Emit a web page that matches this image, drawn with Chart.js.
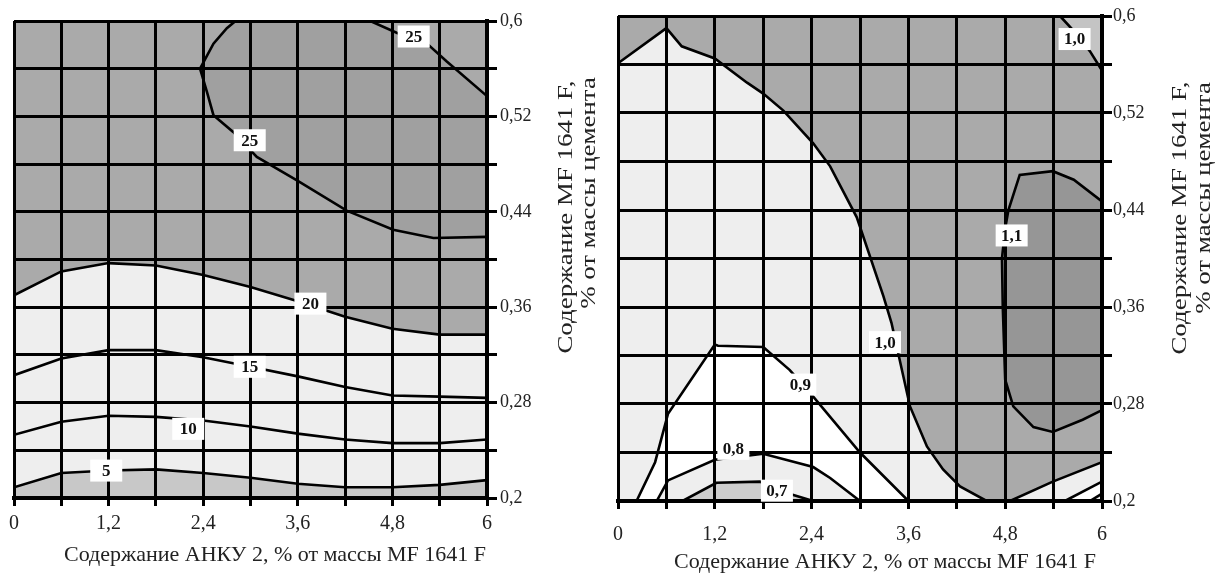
<!DOCTYPE html>
<html>
<head>
<meta charset="utf-8">
<script src="https://cdn.jsdelivr.net/npm/chart.js@4.4.1/dist/chart.umd.min.js"></script>
<style>
  body { margin: 0; background: #fff; }
  .wrap { position: absolute; top: 0; width: 612px; height: 574px; }
</style>
</head>
<body>
<div class="wrap" style="left:0"><canvas id="leftChart" width="612" height="574"></canvas></div>
<div class="wrap" style="left:612px"><canvas id="rightChart" width="612" height="574"></canvas></div>
<script>
// axis ticks (shared by both plots)
const xTickValues = [0, 0.6, 1.2, 1.8, 2.4, 3.0, 3.6, 4.2, 4.8, 5.4, 6];
const xTickLabels = ['0', '', '1,2', '', '2,4', '', '3,6', '', '4,8', '', '6'];
const yTickValues = [0.2, 0.24, 0.28, 0.32, 0.36, 0.4, 0.44, 0.48, 0.52, 0.56, 0.6];
const yTickLabels = ['0,2', '', '0,28', '', '0,36', '', '0,44', '', '0,52', '', '0,6'];

// left plot: isolines 5 ... 25
const leftX = [0, 0.6, 1.2, 1.8, 2.4, 3.0, 3.6, 4.2, 4.8, 5.4, 6];
const level20Y = [0.370, 0.390, 0.397, 0.395, 0.387, 0.377, 0.365, 0.352, 0.342, 0.337, 0.337];
const level15Y = [0.303, 0.317, 0.324, 0.324, 0.318, 0.310, 0.302, 0.293, 0.286, 0.285, 0.284];
const level10Y = [0.253, 0.264, 0.269, 0.268, 0.265, 0.260, 0.254, 0.249, 0.246, 0.246, 0.249];
const level5Y  = [0.209, 0.221, 0.223, 0.224, 0.221, 0.217, 0.212, 0.209, 0.209, 0.211, 0.215];
// the 25 zone: lower edge, and upper edge (runs along the top frame between the two pieces)
const level25LowX = [2.36, 2.45, 2.53, 2.78, 3.08, 3.6, 4.22, 4.81, 5.32, 6];
const level25LowY = [0.560, 0.540, 0.521, 0.507, 0.486, 0.466, 0.441, 0.425, 0.418, 0.419];
const level25UpX = [2.36, 2.53, 2.7, 2.81, 4.52, 4.86, 5.19, 5.49, 6];
const level25UpY = [0.560, 0.581, 0.594, 0.6, 0.6, 0.590, 0.584, 0.566, 0.537];
const leftLabelText = ['25', '25', '20', '15', '10', '5'];
const leftLabelX = [5.07, 2.99, 3.76, 2.99, 2.21, 1.17];
const leftLabelY = [0.587, 0.500, 0.363, 0.310, 0.258, 0.223];

// right plot: isolines 0,7 ... 1,1
const main10X = [0, 0.6, 0.79, 1.2, 1.6, 1.8, 2.05, 2.42, 2.63, 2.96, 3.29, 3.39, 3.62, 3.83, 4.03, 4.24, 4.57, 4.86, 5.39, 6];
const main10Y = [0.561, 0.590, 0.575, 0.565, 0.545, 0.536, 0.522, 0.495, 0.476, 0.434, 0.369, 0.347, 0.278, 0.245, 0.226, 0.212, 0.2, 0.2, 0.216, 0.232];
const corner10X = [5.48, 5.7, 5.85, 6];
const corner10Y = [0.6, 0.584, 0.571, 0.555];
const level11UpX = [4.76, 4.8, 4.84, 4.98, 5.39, 5.65, 6];
const level11UpY = [0.400, 0.425, 0.440, 0.469, 0.472, 0.465, 0.447];
const level11LowX = [4.76, 4.77, 4.8, 4.9, 5.15, 5.39, 5.76, 6];
const level11LowY = [0.400, 0.360, 0.300, 0.278, 0.261, 0.257, 0.267, 0.275];
const level09X = [0.23, 0.46, 0.62, 1.2, 1.24, 1.8, 2.13, 2.42, 3.0, 3.6];
const level09Y = [0.2, 0.232, 0.272, 0.329, 0.328, 0.327, 0.308, 0.286, 0.240, 0.2];
const level08X = [0.48, 0.62, 1.2, 1.8, 2.42, 2.63, 3.0];
const level08Y = [0.2, 0.217, 0.234, 0.239, 0.228, 0.219, 0.2];
const level07X = [0.8, 1.22, 1.76, 1.97, 2.42];
const level07Y = [0.2, 0.215, 0.216, 0.209, 0.2];
const corner09X = [5.54, 6];
const corner09Y = [0.2, 0.216];
const corner08X = [5.85, 6];
const corner08Y = [0.2, 0.206];
const rightLabelText = ['1,0', '1,1', '1,0', '0,9', '0,8', '0,7'];
const rightLabelX = [5.66, 4.88, 3.31, 2.26, 1.43, 1.97];
const rightLabelY = [0.581, 0.419, 0.331, 0.296, 0.243, 0.2085];

const xTitle = 'Содержание АНКУ 2, % от массы MF 1641 F';
const yTitle = ['Содержание MF 1641 F,', '% от массы цемента'];

const LIGHT = '#eeeeee', MID = '#aaaaaa', DARK = '#a0a0a0', DARKER = '#969696', LOW = '#c8c8c8', WHITE = '#ffffff';
const SERIF = '"Liberation Serif", "Times New Roman", serif';

function pts(xs, ys) {
  return xs.map((x, i) => ({x: x, y: ys[i]}));
}

function isoline(xs, ys, fill, color) {
  return {
    data: pts(xs, ys),
    borderColor: '#000',
    borderWidth: 2.6,
    pointRadius: 0,
    tension: 0,
    fill: fill,
    backgroundColor: color || 'transparent'
  };
}

// plot background colour
const areaBg = {
  id: 'areaBg',
  beforeDraw(chart) {
    const a = chart.chartArea, ctx = chart.ctx;
    ctx.save();
    ctx.fillStyle = LIGHT;
    ctx.fillRect(a.left, a.top, a.right - a.left, a.bottom - a.top);
    ctx.restore();
  }
};

// boxed level labels on the isolines
const contourLabels = {
  id: 'contourLabels',
  afterDraw(chart, args, opts) {
    const ctx = chart.ctx, sx = chart.scales.x, sy = chart.scales.y;
    ctx.save();
    ctx.font = 'bold 17px ' + SERIF;
    ctx.textAlign = 'center';
    ctx.textBaseline = 'middle';
    opts.text.forEach((t, i) => {
      const px = sx.getPixelForValue(opts.xs[i]);
      const py = sy.getPixelForValue(opts.ys[i]);
      const w = Math.max(ctx.measureText(t).width + 10, 32);
      ctx.fillStyle = '#fff';
      ctx.fillRect(px - w / 2, py - 11, w, 22);
      ctx.fillStyle = '#111';
      ctx.fillText(t, px, py + 1);
    });
    ctx.restore();
  }
};

// axis titles (y title reads bottom-to-top, on the right, drawn a bit elongated as in the scan)
const axisTitles = {
  id: 'axisTitles',
  afterDraw(chart, args, opts) {
    const ctx = chart.ctx;
    ctx.save();
    ctx.fillStyle = '#222';
    ctx.textAlign = 'center';
    ctx.textBaseline = 'middle';
    ctx.font = opts.xSize + 'px ' + SERIF;
    ctx.fillText(xTitle, opts.xCenter, opts.xBase);
    ctx.font = opts.ySize + 'px ' + SERIF;
    ctx.textBaseline = 'alphabetic';
    yTitle.forEach((line, i) => {
      ctx.save();
      ctx.translate(opts.yLineX[i], opts.yLineY[i]);
      ctx.scale(1, opts.yStretch);
      ctx.rotate(-Math.PI / 2);
      ctx.fillText(line, 0, 0);
      ctx.restore();
    });
    ctx.restore();
  }
};

function makeOptions(o) {
  return {
    responsive: false,
    animation: false,
    layout: {padding: {left: o.padLeft, top: o.padTop, right: 0, bottom: 0}},
    scales: {
      x: {
        type: 'linear', min: 0, max: 6,
        afterFit: s => { s.height = o.xHeight; s.paddingLeft = 0; s.paddingRight = 0; },
        afterBuildTicks: s => { s.ticks = xTickValues.map(v => ({value: v})); },
        ticks: {
          autoSkip: false, maxRotation: 0, padding: o.xPad,
          color: '#222', font: {family: SERIF, size: 20},
          callback: (v, i) => xTickLabels[i]
        },
        grid: {color: '#000', lineWidth: 3, tickLength: 8, tickWidth: 3, z: 1},
        border: {color: '#000', width: 4, z: 2}
      },
      y: {
        type: 'linear', position: 'right', min: 0.2, max: 0.6,
        afterFit: s => { s.width = o.yWidth; },
        afterBuildTicks: s => { s.ticks = yTickValues.map(v => ({value: v})); },
        ticks: {
          autoSkip: false, padding: o.yPad,
          color: '#222', font: {family: SERIF, size: 18},
          callback: (v, i) => yTickLabels[i]
        },
        grid: {color: '#000', lineWidth: 3, tickLength: 10, tickWidth: 3, z: 1},
        border: {color: '#000', width: 4, z: 2}
      }
    },
    plugins: {
      legend: {display: false},
      tooltip: {enabled: false},
      filler: {drawTime: 'beforeDatasetsDraw'},
      contourLabels: o.labels,
      axisTitles: o.titles
    }
  };
}

// top layer first: the filler paints the last dataset first
const leftSets = [
  isoline(leftX, level5Y, 'start', LOW),
  isoline(leftX, level10Y, false),
  isoline(leftX, level15Y, false),
  isoline(level25UpX, level25UpY, 4, DARK),
  isoline(level25LowX, level25LowY, false),
  isoline(leftX, level20Y, 'end', MID)
];

const rightSets = [
  isoline(corner08X, corner08Y, 'start', LIGHT),
  isoline(corner09X, corner09Y, 'start', WHITE),
  isoline(level07X, level07Y, 'start', '#cdcdcd'),
  isoline(level08X, level08Y, 'start', LIGHT),
  isoline(level09X, level09Y, 'start', WHITE),
  isoline(corner10X, corner10Y, 'end', '#c4c4c4'),
  isoline(level11UpX, level11UpY, 7, DARKER),
  isoline(level11LowX, level11LowY, false),
  isoline(main10X, main10Y, 'end', MID)
];

new Chart(document.getElementById('leftChart').getContext('2d'), {
  type: 'line',
  data: {datasets: leftSets},
  options: makeOptions({
    padLeft: 14, padTop: 21, xHeight: 76, yWidth: 125, xPad: 6, yPad: 3,
    labels: {text: leftLabelText, xs: leftLabelX, ys: leftLabelY},
    titles: {xSize: 22, ySize: 21, yStretch: 1.28, xCenter: 275, xBase: 555, yLineX: [572, 595], yLineY: [217, 193]}
  }),
  plugins: [areaBg, contourLabels, axisTitles]
});

new Chart(document.getElementById('rightChart').getContext('2d'), {
  type: 'line',
  data: {datasets: rightSets},
  options: makeOptions({
    padLeft: 6, padTop: 16, xHeight: 73, yWidth: 122, xPad: 14, yPad: 1,
    labels: {text: rightLabelText, xs: rightLabelX, ys: rightLabelY},
    titles: {xSize: 22, ySize: 21, yStretch: 1.28, xCenter: 273, xBase: 562, yLineX: [574, 598], yLineY: [218, 198]}
  }),
  plugins: [areaBg, contourLabels, axisTitles]
});
</script>
</body>
</html>
